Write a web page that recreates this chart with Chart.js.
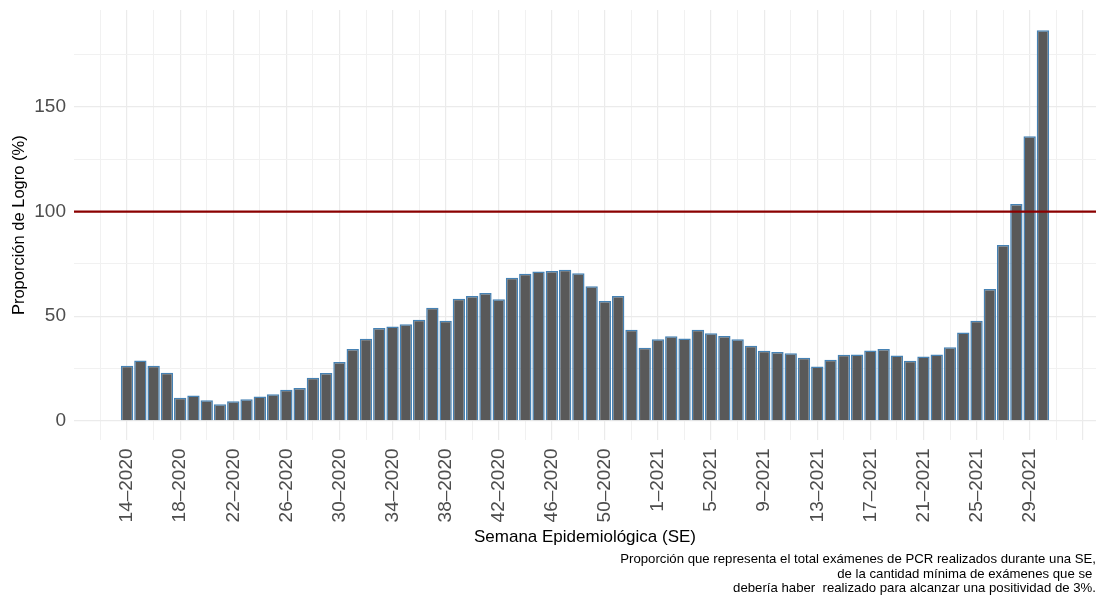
<!DOCTYPE html>
<html>
<head>
<meta charset="utf-8">
<script src="https://cdn.jsdelivr.net/npm/chart.js@4/dist/chart.umd.min.js"></script>
<style>
  html, body { margin: 0; padding: 0; background: #fff; overflow: hidden; }
  #wrap { width: 1096px; height: 602px; }
</style>
</head>
<body>
<div id="wrap"><canvas id="logroChart"></canvas></div>
<script>
// Semanas epidemiológicas (14-2020 .. 30-2021)
const weekLabels = [
  "14–2020", "15–2020", "16–2020", "17–2020", "18–2020", "19–2020", "20–2020", "21–2020",
  "22–2020", "23–2020", "24–2020", "25–2020", "26–2020", "27–2020", "28–2020", "29–2020",
  "30–2020", "31–2020", "32–2020", "33–2020", "34–2020", "35–2020", "36–2020", "37–2020",
  "38–2020", "39–2020", "40–2020", "41–2020", "42–2020", "43–2020", "44–2020", "45–2020",
  "46–2020", "47–2020", "48–2020", "49–2020", "50–2020", "51–2020", "52–2020", "53–2020",
  "1–2021", "2–2021", "3–2021", "4–2021", "5–2021", "6–2021", "7–2021", "8–2021",
  "9–2021", "10–2021", "11–2021", "12–2021", "13–2021", "14–2021", "15–2021", "16–2021",
  "17–2021", "18–2021", "19–2021", "20–2021", "21–2021", "22–2021", "23–2021", "24–2021",
  "25–2021", "26–2021", "27–2021", "28–2021", "29–2021", "30–2021"
];

// Proporción de logro (%) por semana
const logroValues = [
  26.3, 28.9, 26.3, 23.0, 11.1, 12.1, 9.8, 7.9,
  9.4, 10.3, 11.7, 12.7, 14.9, 15.7, 20.6, 22.9,
  28.1, 34.4, 39.2, 44.4, 45.1, 46.2, 48.3, 54.1,
  47.9, 58.4, 59.7, 61.1, 58.1, 68.4, 70.3, 71.4,
  71.6, 72.2, 70.5, 64.3, 57.3, 59.7, 43.5, 34.9,
  39.0, 40.5, 39.4, 43.5, 41.9, 40.6, 39.0, 35.9,
  33.5, 32.9, 32.3, 30.2, 26.0, 29.2, 31.6, 31.7,
  33.6, 34.4, 31.3, 28.7, 30.8, 31.7, 35.2, 42.2,
  47.9, 63.0, 84.0, 103.7, 136.0, 186.7
];

const metaLogro = 100;
const yTickLabels = [0, 50, 100, 150];

const captionLines = [
  "Proporción que representa el total exámenes de PCR realizados durante una SE,",
  "de la cantidad mínima de exámenes que se ",
  "debería haber  realizado para alcanzar una positividad de 3%."
];

const xMin = -4, xMax = 73;
const gridMajor = "#EBEBEB";
const gridMinor = "#F1F1F1";

Chart.defaults.font.family = "'Liberation Sans', Arial, Helvetica, sans-serif";

const barData = logroValues.map((v, i) => ({ x: i, y: v }));

new Chart(document.getElementById("logroChart"), {
  type: "bar",
  data: {
    datasets: [
      {
        type: "line",
        data: [{ x: xMin, y: metaLogro }, { x: xMax, y: metaLogro }],
        borderColor: "#8B0000",
        borderWidth: 2.2,
        pointRadius: 0,
        order: 0
      },
      {
        type: "bar",
        data: barData,
        backgroundColor: "#595959",
        borderColor: "#4682B4",
        borderWidth: 1.5,
        barPercentage: 0.93,
        categoryPercentage: 1,
        order: 1
      }
    ]
  },
  options: {
    responsive: true,
    maintainAspectRatio: false,
    animation: false,
    layout: { padding: { top: 10, right: 0, bottom: 0, left: 0 } },
    plugins: {
      legend: { display: false },
      tooltip: { enabled: false },
      title: {
        display: true,
        position: "bottom",
        align: "end",
        text: captionLines,
        color: "#000",
        font: { size: 13.2, weight: "normal", lineHeight: 1.1 },
        padding: { top: 2, bottom: 6 }
      }
    },
    scales: {
      x: {
        type: "linear",
        min: xMin,
        max: xMax,
        offset: false,
        border: { display: false },
        grid: {
          offset: false,
          drawTicks: false,
          color: (c) => c.tick.value === xMin ? "rgba(0,0,0,0)" : (c.tick.value % 4 === 0 ? gridMajor : gridMinor),
          lineWidth: (c) => c.tick.value % 4 === 0 ? 1.2 : 1
        },
        ticks: {
          stepSize: 2,
          includeBounds: false,
          autoSkip: false,
          minRotation: 90,
          maxRotation: 90,
          padding: 8,
          color: "#4D4D4D",
          font: { size: 19 },
          callback: (v) => (v >= 0 && v < weekLabels.length && v % 4 === 0) ? weekLabels[v] : ""
        },
        title: {
          display: true,
          text: "Semana Epidemiológica (SE)",
          color: "#000",
          font: { size: 17 },
          padding: { top: 0, bottom: 3 }
        },
        afterFit: (scale) => {
          scale.height = 110;
          scale.paddingLeft = 0;
          scale.paddingRight = 0;
        }
      },
      y: {
        min: -9.35,
        max: 196.35,
        border: { display: false },
        grid: {
          drawTicks: false,
          color: (c) => c.tick.value % 50 === 0 ? gridMajor : gridMinor,
          lineWidth: (c) => c.tick.value % 50 === 0 ? 1.2 : 1
        },
        ticks: {
          stepSize: 25,
          includeBounds: false,
          padding: 8,
          color: "#4D4D4D",
          font: { size: 19 },
          callback: (v) => yTickLabels.includes(v) ? String(v) : ""
        },
        title: {
          display: true,
          text: "Proporción de Logro (%)",
          color: "#000",
          font: { size: 16.5 },
          padding: { top: 10, bottom: 0 }
        },
        afterFit: (scale) => {
          scale.width = 74;
          scale.paddingTop = 0;
          scale.paddingBottom = 0;
        }
      }
    }
  }
});
</script>
</body>
</html>
